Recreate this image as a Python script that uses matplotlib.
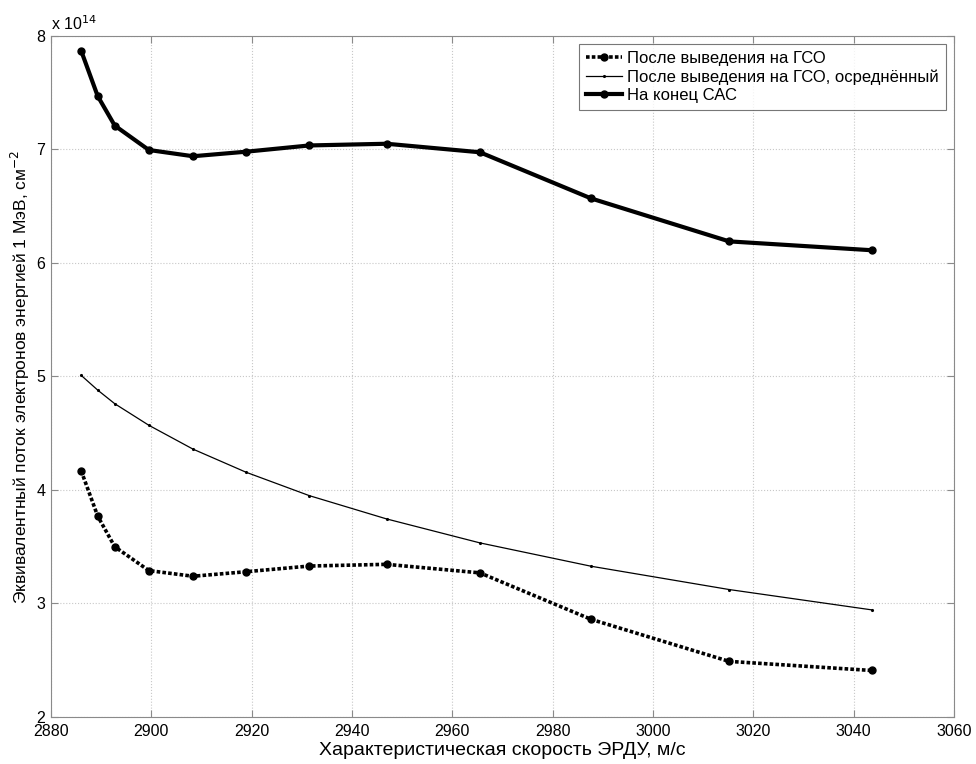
import matplotlib
matplotlib.use("Agg")
import matplotlib.pyplot as plt

# Characteristic velocity, m/s
velocity = [2886.0, 2889.3, 2892.7, 2899.5, 2908.3, 2918.9, 2931.5,
            2946.9, 2965.5, 2987.7, 3015.2, 3043.6]

# Equivalent 1 MeV electron fluence, x 1e14 cm^-2
flux_gso = [4.17, 3.77, 3.50, 3.29, 3.24, 3.28, 3.33, 3.345, 3.27, 2.86, 2.49, 2.41]
flux_gso_avg = [5.01, 4.88, 4.76, 4.57, 4.36, 4.156, 3.95, 3.745, 3.534, 3.328, 3.123, 2.944]
flux_end = [7.87, 7.47, 7.21, 6.995, 6.94, 6.98, 7.035, 7.05, 6.975, 6.568, 6.19, 6.112]

labels = ["После выведения на ГСО",
          "После выведения на ГСО, осреднённый",
          "На конец САС"]

plt.rcParams['font.family'] = ['Liberation Sans', 'DejaVu Sans']

fig = plt.figure(figsize=(9.76, 7.64), dpi=100)
ax = fig.add_axes([0.0523, 0.0615, 0.925, 0.8915])

ax.plot(velocity, flux_gso, linestyle=(0, (1, 0.6)), color='black', linewidth=2.6,
        marker='o', markersize=5, label=labels[0])
ax.plot(velocity, flux_gso_avg, linestyle='-', color='black', linewidth=0.9,
        marker='.', markersize=2.5, label=labels[1])
ax.plot(velocity, flux_end, linestyle='-', color='black', linewidth=3,
        marker='o', markersize=5, label=labels[2])

ax.set_xlim(2880, 3060)
ax.set_ylim(2, 8)
ax.set_xticks(range(2880, 3061, 20))
ax.set_yticks(range(2, 9))

ax.grid(True, linestyle=':', color='#c8c8c8', linewidth=0.8)
for s in ax.spines.values():
    s.set_color('#8a8a8a')
ax.tick_params(direction='in', top=True, right=True, color='#8a8a8a',
               labelsize=11.5, length=5)
ax.tick_params(axis='x', pad=5)
ax.tick_params(axis='y', pad=4)

ax.set_xlabel("Характеристическая скорость ЭРДУ, м/с", fontsize=14, labelpad=2)
ax.set_ylabel("Эквивалентный поток электронов энергией 1 МэВ, см$^{-2}$",
              fontsize=12.5, labelpad=3)
ax.text(0.0, 1.005, r"x 10$^{14}$", transform=ax.transAxes, fontsize=11.5,
        ha='left', va='bottom')

leg = ax.legend(loc='upper right', fontsize=12, frameon=True, fancybox=False,
                edgecolor='#555555', handlelength=2.2, handletextpad=0.3,
                borderaxespad=0.5, borderpad=0.4, labelspacing=0.2)
leg.get_frame().set_linewidth(0.8)

fig.savefig("out.png", dpi=100)
